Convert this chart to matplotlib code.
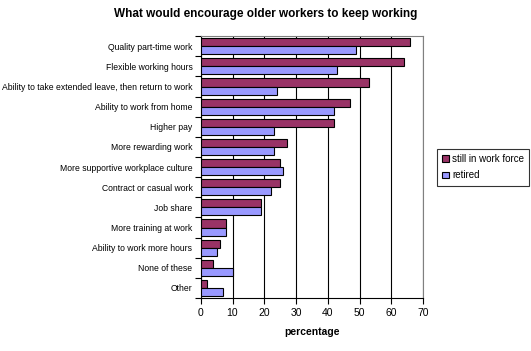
import matplotlib.pyplot as plt
import numpy as np

plt.rcParams['font.family'] = ['Liberation Sans', 'DejaVu Sans']

categories = ["Quality part-time work", "Flexible working hours",
              "Ability to take extended leave, then return to work",
              "Ability to work from home", "Higher pay", "More rewarding work",
              "More supportive workplace culture", "Contract or casual work",
              "Job share", "More training at work", "Ability to work more hours",
              "None of these", "Other"]
still_working = [66, 64, 53, 47, 42, 27, 25, 25, 19, 8, 6, 4, 2]
retired = [49, 43, 24, 42, 23, 23, 26, 22, 19, 8, 5, 10, 7]

fig = plt.figure(figsize=(5.31, 3.51), dpi=100)
ax = fig.add_axes([0.378, 0.151, 0.419, 0.746])

n = len(categories)
y = np.arange(n)
h = 0.4
ax.barh(y - h / 2, still_working, height=h, color="#993366", edgecolor="black",
        linewidth=0.8, label="still in work force", zorder=3)
ax.barh(y + h / 2, retired, height=h, color="#9999FF", edgecolor="black",
        linewidth=0.8, label="retired", zorder=3)

ax.set_ylim(n - 0.5, -0.5)
ax.set_xlim(0, 70)
ax.set_xticks(range(0, 71, 10))
ax.set_yticks(y)
ax.set_yticklabels(categories, fontsize=6.2)
ax.set_yticks(np.arange(-0.5, n, 1), minor=True)
ax.tick_params(axis='y', which='major', length=0, pad=6)
ax.tick_params(axis='y', which='minor', length=4, direction='out', width=0.8)
ax.tick_params(axis='x', length=4, width=0.8, labelsize=7.5, pad=3)
ax.grid(axis='x', color='black', linewidth=0.8, zorder=0)

for s in ['top', 'right']:
    ax.spines[s].set_color('#808080')
for s in ['left', 'bottom']:
    ax.spines[s].set_linewidth(0.8)

ax.set_xlabel("percentage", fontsize=7.5, fontweight='bold', labelpad=7)
fig.suptitle("What would encourage older workers to keep working",
             fontsize=8.5, fontweight='bold', y=0.978)

leg = fig.legend(loc='upper left', bbox_to_anchor=(0.823, 0.576), fontsize=7,
                 frameon=True, fancybox=False, handlelength=0.7, handleheight=0.7,
                 handletextpad=0.3, borderpad=0.55, labelspacing=0.65,
                 borderaxespad=0)
leg.get_frame().set_edgecolor('black')
leg.get_frame().set_linewidth(0.8)

fig.savefig("out.png", dpi=100)
